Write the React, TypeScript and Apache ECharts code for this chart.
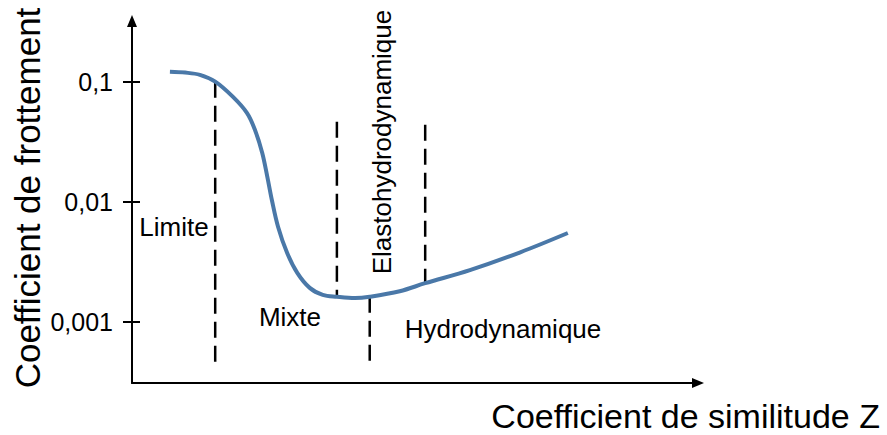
import React, { useEffect, useRef } from "react";
import * as echarts from "echarts";

// Stribeck curve: coefficient de similitude Z (arbitrary units) vs coefficient de frottement
const CURVE_X = [6.7, 9.4, 12.0, 14.7, 17.8, 20.3, 21.7, 23.0, 23.9, 24.7, 25.8, 27.4, 29.2, 31.4, 33.7, 36.2, 39.4, 42.0, 47.3, 51.8, 59.7, 68.6, 77.0];
const CURVE_F = [0.121, 0.119, 0.114, 0.1, 0.075, 0.055, 0.04, 0.0256, 0.0162, 0.0104, 0.0062, 0.00376, 0.00256, 0.00192, 0.00168, 0.00162, 0.00158, 0.00162, 0.0018, 0.0021, 0.0027, 0.0038, 0.0055];

// Regime boundaries (dashed lines): x position, start friction, end friction
const BOUNDARY_X = [14.7, 36.2, 42.0, 51.8];
const BOUNDARY_F_START = [0.1, 0.0464, 0.00162, 0.0438];
const BOUNDARY_F_END = [0.000464, 0.00162, 0.000414, 0.0021];

const TICK_VALUES = [0.001, 0.01, 0.1];
const TICK_LABELS = ["0,001", "0,01", "0,1"];

const Y_MIN = 0.00031;
const Y_MAX = 0.32;
const X_MIN = 0;
const X_MAX = 100;

const FONT = "'Liberation Sans', Arial, Helvetica, sans-serif";

const lg = (v: number) => Math.log10(v);

export default function App() {
  const ref = useRef<HTMLDivElement>(null);

  useEffect(() => {
    if (!ref.current) return;
    const chart = echarts.init(ref.current, undefined, { renderer: "svg" });

    const tickLogs = TICK_VALUES.map(lg);
    const labelFor = (v: number) => {
      const i = tickLogs.findIndex((t) => Math.abs(t - v) < 1e-6);
      return i >= 0 ? TICK_LABELS[i] : "";
    };

    const curveData = CURVE_X.map((x, i) => [x, lg(CURVE_F[i])]);

    const dashedSeries = BOUNDARY_X.map((x, i) => ({
      type: "line",
      name: "boundary" + i,
      data: [
        [x, lg(BOUNDARY_F_START[i])],
        [x, lg(BOUNDARY_F_END[i])],
      ],
      symbol: "none",
      silent: true,
      lineStyle: { color: "#000", width: 2.5, type: [16, 8] },
      z: 1,
    }));

    chart.setOption({
      animation: false,
      backgroundColor: "#ffffff",
      grid: { left: 132, right: 189, top: 21, bottom: 52, containLabel: false },
      xAxis: {
        type: "value",
        min: X_MIN,
        max: X_MAX,
        axisLine: {
          show: true,
          symbol: ["none", "triangle"],
          symbolSize: [10, 12],
          lineStyle: { color: "#000", width: 2 },
        },
        axisTick: { show: false },
        axisLabel: { show: false },
        splitLine: { show: false },
      },
      yAxis: [
        {
          type: "value",
          min: lg(Y_MIN),
          max: lg(Y_MAX),
          axisLine: {
            show: true,
            symbol: ["none", "triangle"],
            symbolSize: [10, 12],
            lineStyle: { color: "#000", width: 2 },
          },
          axisTick: {
            show: true,
            length: 9,
            customValues: tickLogs,
            lineStyle: { color: "#000", width: 2 },
          },
          axisLabel: {
            show: true,
            customValues: tickLogs,
            formatter: (v: number) => labelFor(v),
            margin: 19,
            color: "#000",
            fontSize: 25,
            fontFamily: FONT,
          },
          splitLine: { show: false },
        },
        {
          type: "value",
          min: lg(Y_MIN),
          max: lg(Y_MAX),
          position: "left",
          axisLine: { show: false },
          axisTick: {
            show: true,
            inside: true,
            length: 8,
            customValues: tickLogs,
            lineStyle: { color: "#000", width: 2 },
          },
          axisLabel: { show: false },
          splitLine: { show: false },
        },
      ],
      series: [
        ...dashedSeries,
        {
          type: "line",
          name: "Frottement",
          data: curveData,
          smooth: 0.35,
          symbol: "none",
          lineStyle: { color: "#4a78a8", width: 4 },
          z: 3,
        },
      ],
      graphic: [
        {
          type: "text",
          x: 27,
          y: 198,
          rotation: Math.PI / 2,
          style: {
            text: "Coefficient de frottement",
            fill: "#000",
            fontSize: 35,
            fontFamily: FONT,
            align: "center",
            verticalAlign: "middle",
          },
        },
        {
          type: "text",
          x: 880,
          y: 416,
          style: {
            text: "Coefficient de similitude Z",
            fill: "#000",
            fontSize: 34,
            fontFamily: FONT,
            align: "right",
            verticalAlign: "middle",
          },
        },
        {
          type: "text",
          x: 174,
          y: 227,
          style: { text: "Limite", fill: "#000", fontSize: 26, fontFamily: FONT, align: "center", verticalAlign: "middle" },
        },
        {
          type: "text",
          x: 290,
          y: 317,
          style: { text: "Mixte", fill: "#000", fontSize: 26, fontFamily: FONT, align: "center", verticalAlign: "middle" },
        },
        {
          type: "text",
          x: 503,
          y: 329,
          style: { text: "Hydrodynamique", fill: "#000", fontSize: 26, fontFamily: FONT, align: "center", verticalAlign: "middle" },
        },
        {
          type: "text",
          x: 382,
          y: 142,
          rotation: Math.PI / 2,
          style: {
            text: "Elastohydrodynamique",
            fill: "#000",
            fontSize: 26,
            fontFamily: FONT,
            align: "center",
            verticalAlign: "middle",
          },
        },
      ],
    });

    return () => chart.dispose();
  }, []);

  return (
    <div
      ref={ref}
      style={{ position: "fixed", left: 0, top: 0, width: 887, height: 435, background: "#fff" }}
    />
  );
}
